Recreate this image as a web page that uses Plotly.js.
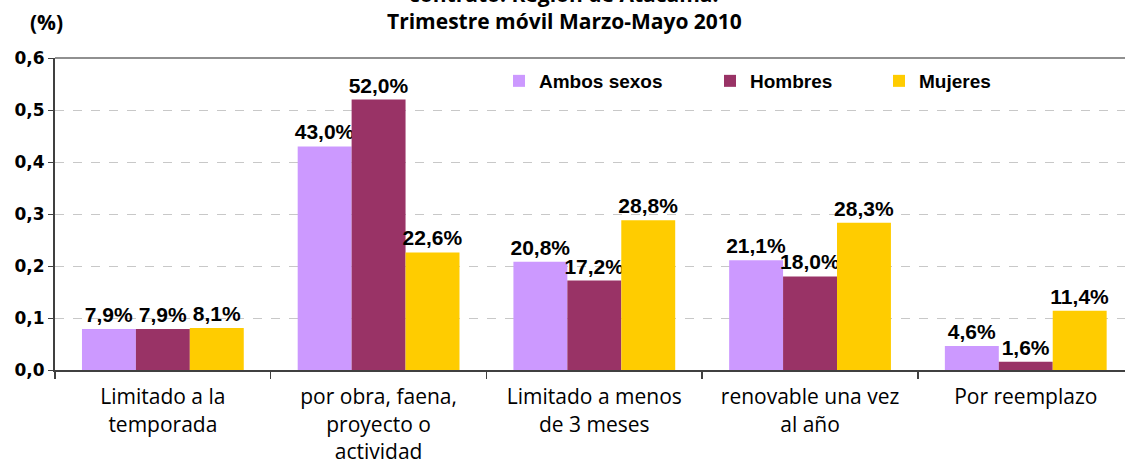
<!DOCTYPE html>
<html>
<head>
<meta charset="utf-8">
<script src="https://cdn.plot.ly/plotly-3.0.1.min.js"></script>
<style>html,body{margin:0;padding:0;background:#fff;}</style>
</head>
<body>
<div id="chart" style="width:1125px;height:466px;"></div>
<script>
const categories = [
  "Limitado a la<br>temporada",
  "por obra, faena,<br>proyecto o<br>actividad",
  "Limitado a menos<br>de 3 meses",
  "renovable una vez<br>al año",
  "Por reemplazo"
];
const seriesNames = ["Ambos sexos", "Hombres", "Mujeres"];
const ambos = [0.079, 0.430, 0.208, 0.211, 0.046];
const hombres = [0.079, 0.520, 0.172, 0.180, 0.016];
const mujeres = [0.081, 0.226, 0.288, 0.283, 0.114];
const yTicks = [0, 0.1, 0.2, 0.3, 0.4, 0.5, 0.6];
const titleLine1 = "contrato. Región de Atacama.";
const titleLine2 = "Trimestre móvil Marzo-Mayo 2010";
const yUnit = "(%)";

const colors = ["#CC99FF", "#993366", "#FFCC00"];
const fmt = v => (v * 100).toFixed(1).replace('.', ',') + '%';
const labelFont = {family: "Liberation Sans, Arial, sans-serif", size: 21, color: "#000", weight: 700};

const data = [ambos, hombres, mujeres].map((vals, i) => ({
  type: 'bar',
  name: seriesNames[i],
  x: categories,
  y: vals,
  text: vals.map(fmt),
  textposition: 'outside',
  constraintext: 'none',
  textfont: labelFont,
  cliponaxis: false,
  marker: {color: colors[i], line: {width: 0}},
  legend: i === 0 ? 'legend' : (i === 1 ? 'legend2' : 'legend3'),
  showlegend: true,
  hoverinfo: 'skip'
}));

const L = 55, W = 1125, H = 466, T = 58, B = 96;
const plotW = W - L;
const px2x = p => (p - L) / plotW;
const px2y = p => (H - B - p) / (H - B - T);

const legendFont = {family: "Liberation Sans, Arial, sans-serif", size: 19, color: "#000", weight: 700};
const legBase = {orientation: 'h', yanchor: 'middle', xanchor: 'left', bgcolor: 'rgba(0,0,0,0)', font: legendFont, itemclick: false, itemdoubleclick: false, visible: true};
const titleFont = {family: "Open Sans, Noto Sans, sans-serif", size: 21, color: '#000', weight: 700};

const layout = {
  width: W, height: H,
  showlegend: true,
  margin: {l: L, r: 0, t: T, b: B, pad: 0},
  paper_bgcolor: '#fff', plot_bgcolor: '#fff',
  separators: ',.',
  barmode: 'group', bargap: 0.25, bargroupgap: 0,
  xaxis: {
    range: [-0.5, 4.46],
    showline: true, linecolor: '#404040', linewidth: 2,
    ticks: 'outside', tickson: 'boundaries', ticklen: 7, tickcolor: '#404040', tickwidth: 1.5,
    showgrid: false,
    ticklabelstandoff: 7,
    tickfont: {family: "Open Sans, Noto Sans, sans-serif", size: 21, color: '#000'},
    fixedrange: true
  },
  yaxis: {
    range: [0, 0.6],
    tickvals: yTicks,
    tickformat: '.1f',
    showline: true, linecolor: '#404040', linewidth: 2,
    ticks: 'outside', ticklen: 5, tickcolor: '#404040',
    showgrid: true, gridcolor: '#c8c8c8', griddash: 'dash', gridwidth: 1,
    zeroline: false,
    tickfont: {family: "DejaVu Sans, Verdana, sans-serif", size: 17, color: '#000', weight: 700},
    fixedrange: true
  },
  legend: Object.assign({}, legBase, {x: px2x(499), y: px2y(81)}),
  legend2: Object.assign({}, legBase, {x: px2x(710), y: px2y(81)}),
  legend3: Object.assign({}, legBase, {x: px2x(879), y: px2y(81)}),
  shapes: [
    {type: 'line', xref: 'paper', yref: 'paper', x0: 0, x1: 1, y0: 1, y1: 1, line: {color: '#909090', width: 2}}
  ],
  annotations: [
    {text: titleLine1, xref: 'paper', yref: 'paper', x: px2x(564), y: px2y(-6), xanchor: 'center', yanchor: 'middle', showarrow: false, font: titleFont},
    {text: titleLine2, xref: 'paper', yref: 'paper', x: px2x(564), y: px2y(21), xanchor: 'center', yanchor: 'middle', showarrow: false, font: titleFont},
    {text: yUnit, xref: 'paper', yref: 'paper', x: px2x(46), y: px2y(22), xanchor: 'center', yanchor: 'middle', showarrow: false, font: titleFont}
  ]
};

Plotly.newPlot('chart', data, layout, {displayModeBar: false, staticPlot: true});
</script>
</body>
</html>
